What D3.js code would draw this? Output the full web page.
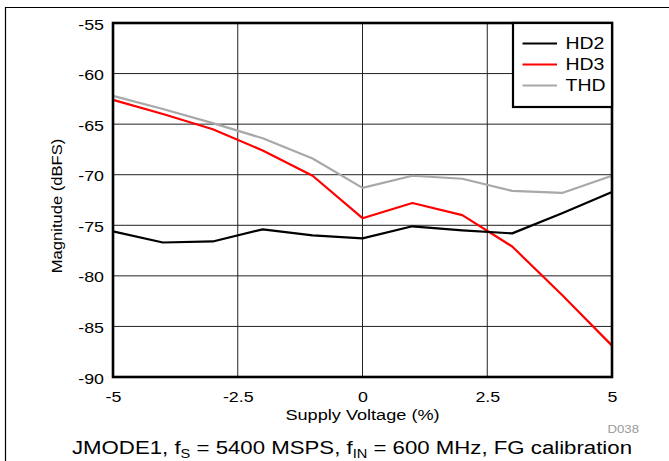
<!DOCTYPE html>
<html>
<head>
<meta charset="utf-8">
<script src="https://cdn.jsdelivr.net/npm/d3@7"></script>
<style>
  body { margin: 0; background: #fff; }
  svg { display: block; }
  svg text { font-family: "Liberation Sans", Arial, sans-serif; fill: #000; }
</style>
</head>
<body>
<svg id="chart" width="669" height="461"></svg>
<script>
const width = 669;
const height = 461;

const supply = [-5, -4, -3, -2, -1, 0, 1, 2, 3, 4, 5];
const hd2 = [-75.6, -76.7, -76.6, -75.4, -76.0, -76.3, -75.1, -75.5, -75.8, -73.8, -71.7];
const hd3 = [-62.6, -64.0, -65.5, -67.6, -70.1, -74.3, -72.8, -74.0, -77.1, -81.9, -86.9];
const thd = [-62.2, -63.5, -64.9, -66.4, -68.4, -71.3, -70.1, -70.4, -71.6, -71.8, -70.1];

const seriesNames = ["HD2", "HD3", "THD"];
const seriesColors = ["#000000", "#ff0000", "#a8a8a8"];
const xTicks = [-5, -2.5, 0, 2.5, 5];
const yTicks = [-55, -60, -65, -70, -75, -80, -85, -90];

// the original text is a bit wider than Liberation Sans
const SX = 1.15;

const margin = { top: 23, bottom: 84, left: 113, right: 57 };

const svg = d3.select("svg#chart");

// outer frame (top and left edges visible)
svg.append("line").attr("x1", 5).attr("x2", width).attr("y1", 7.5).attr("y2", 7.5)
  .attr("stroke", "#000").attr("stroke-width", 1.2);
svg.append("line").attr("x1", 5.5).attr("x2", 5.5).attr("y1", 7).attr("y2", height)
  .attr("stroke", "#000").attr("stroke-width", 1.2);

const plotWidth = width - margin.left - margin.right;
const plotHeight = height - margin.top - margin.bottom;

const x = d3.scaleLinear().domain([-5, 5]).range([0, plotWidth]);
const y = d3.scaleLinear().domain([-90, -55]).range([plotHeight, 0]);

const plot = svg.append("g").attr("transform", translate(margin.left, margin.top));

// grid
plot.append("g")
  .selectAll("line")
  .data(xTicks)
  .enter()
  .append("line")
  .attr("x1", d => x(d)).attr("x2", d => x(d))
  .attr("y1", 0).attr("y2", plotHeight)
  .attr("stroke", "#222").attr("stroke-width", 1);

plot.append("g")
  .selectAll("line")
  .data(yTicks)
  .enter()
  .append("line")
  .attr("x1", 0).attr("x2", plotWidth)
  .attr("y1", d => y(d)).attr("y2", d => y(d))
  .attr("stroke", "#222").attr("stroke-width", 1);

// axes
const xAxis = d3.axisBottom(x).tickValues(xTicks).tickSize(0).tickFormat(d => String(d));
const yAxis = d3.axisLeft(y).tickValues(yTicks).tickSize(0).tickFormat(d => String(d));

const xGroup = plot.append("g").attr("transform", translate(0, plotHeight)).call(xAxis);
const yGroup = plot.append("g").call(yAxis);
xGroup.select(".domain").remove();
yGroup.select(".domain").remove();

xGroup.selectAll("text")
  .attr("x", 0).attr("y", 0).attr("dy", null)
  .style("font-size", "15.5px")
  .attr("transform", "translate(0,24.5) scale(" + SX + ",1)");

yGroup.selectAll("text")
  .attr("x", 0).attr("y", 0).attr("dy", "0.36em")
  .style("font-size", "15.5px")
  .attr("transform", "translate(-9,0.5) scale(" + SX + ",1)");

// lines
const allSeries = [hd2, hd3, thd];
const line = d3.line()
  .x((d, i) => x(supply[i]))
  .y(d => y(d));

// THD underneath, HD2 on top
[2, 1, 0].forEach(function(k) {
  plot.append("path")
    .datum(allSeries[k])
    .attr("fill", "none")
    .attr("stroke", seriesColors[k])
    .attr("stroke-width", 2.2)
    .attr("stroke-linejoin", "round")
    .attr("d", line);
});

// plot border
plot.append("rect")
  .attr("x", 0).attr("y", 0)
  .attr("width", plotWidth).attr("height", plotHeight)
  .attr("fill", "none")
  .attr("stroke", "#000")
  .attr("stroke-width", 2.6);

// legend
const legendWidth = 99;
const legendHeight = 84;
const legend = plot.append("g").attr("transform", translate(plotWidth - legendWidth, 0));
legend.append("rect")
  .attr("width", legendWidth).attr("height", legendHeight)
  .attr("fill", "#fff").attr("stroke", "#000").attr("stroke-width", 2.2);

const entries = legend.selectAll("g.entry")
  .data(seriesNames)
  .enter()
  .append("g")
  .attr("transform", (d, i) => translate(0, 20.5 + i * 21));

entries.append("line")
  .attr("x1", 9.5).attr("x2", 44)
  .attr("stroke", (d, i) => seriesColors[i])
  .attr("stroke-width", 2.2);

entries.append("text")
  .attr("dy", "0.36em")
  .attr("transform", "translate(52.5,0) scale(1.18,1)")
  .style("font-size", "16.5px")
  .text(d => d);

// axis titles
svg.append("text")
  .attr("transform", "translate(" + (margin.left + plotWidth / 2) + ",419.5) scale(1.17,1)")
  .attr("text-anchor", "middle")
  .style("font-size", "15.5px")
  .text("Supply Voltage (%)");

svg.append("text")
  .attr("transform", "translate(62,206) rotate(-90) scale(1.07,1)")
  .attr("text-anchor", "middle")
  .style("font-size", "15.5px")
  .text("Magnitude (dBFS)");

svg.append("text")
  .attr("transform", "translate(639,433) scale(1.2,1)")
  .attr("text-anchor", "end")
  .style("font-size", "11px")
  .style("fill", "#999")
  .text("D038");

// caption
const caption = svg.append("text")
  .attr("transform", "translate(352,454) scale(1.17,1)")
  .attr("text-anchor", "middle")
  .style("font-size", "19px");
caption.append("tspan").text("JMODE1, f");
caption.append("tspan").attr("dy", 4).style("font-size", "12.5px").text("S");
caption.append("tspan").attr("dy", -4).text(" = 5400 MSPS, f");
caption.append("tspan").attr("dy", 4).style("font-size", "12.5px").text("IN");
caption.append("tspan").attr("dy", -4).text(" = 600 MHz, FG calibration");

function translate(x, y) {
  return "translate(" + String(x) + "," + String(y) + ")";
}
</script>
</body>
</html>
